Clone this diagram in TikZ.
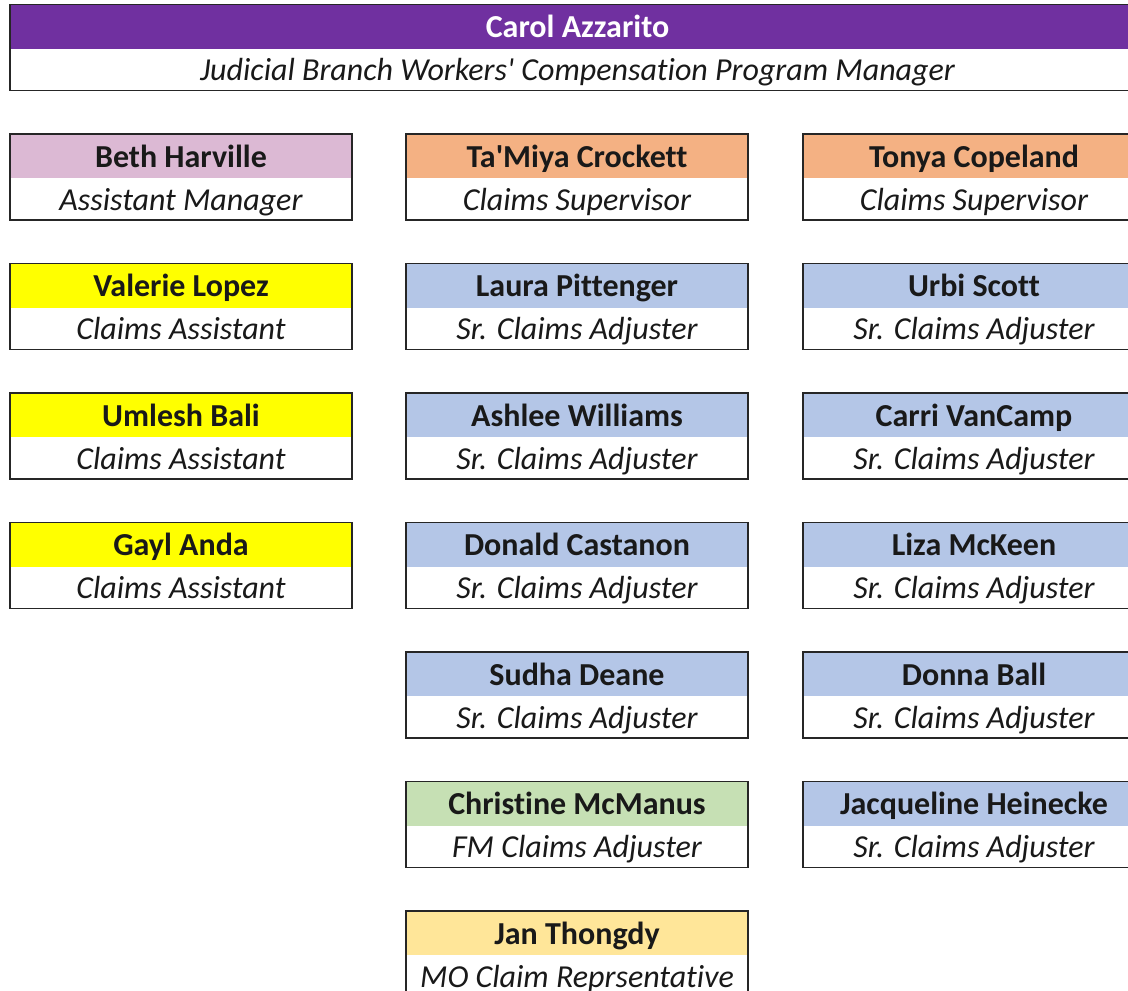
\documentclass[tikz,border=0pt]{standalone}
\usepackage{fontspec}
\setmainfont[Ligatures=NoCommon]{Carlito}
\usetikzlibrary{positioning}

\definecolor{purplehd}{HTML}{7030A0}
\definecolor{pinkhd}{HTML}{DCB9D4}
\definecolor{orangehd}{HTML}{F4B183}
\definecolor{yellowhd}{HTML}{FFFF00}
\definecolor{bluehd}{HTML}{B4C6E7}
\definecolor{greenhd}{HTML}{C6E0B4}
\definecolor{goldhd}{HTML}{FFE699}
\definecolor{edge}{HTML}{262626}

\tikzset{
  hd/.style={minimum width=342pt,minimum height=44pt,inner sep=0pt,outer sep=0pt,
    text height=28pt,text depth=6pt,
    font=\fontsize{32}{36}\selectfont\bfseries,text=black!90},
  tl/.style={minimum width=342pt,minimum height=42pt,inner sep=0pt,outer sep=0pt,fill=white,
    text height=28pt,text depth=6pt,
    font=\fontsize{32}{36}\selectfont\itshape,text=black!90},
  frame/.style={draw=edge,line width=1.6pt}
}

\begin{document}
\begin{tikzpicture}[x=1pt,y=-1pt,node distance=43.5pt]
\clip (0,0) rectangle (1128,991);
\fill[white] (0,0) rectangle (1128,991);

% manager
\node[hd,fill=purplehd,text=white,minimum width=1135pt] (carol) at (577.5,26.5) {Carol Azzarito};
\node[tl,minimum width=1135pt] (carolT) [below=0pt of carol] {Judicial Branch Workers\textquotesingle{} Compensation Program Manager};
\draw[frame] (carol.north west) rectangle (carolT.south east);

% first column
\node[hd,fill=pinkhd] (beth) at (181,156) {Beth Harville};
\node[tl] (bethT) [below=0pt of beth] {Assistant Manager};
\node[hd,fill=yellowhd] (valerie) [below=of bethT] {Valerie Lopez};
\node[tl] (valerieT) [below=0pt of valerie] {Claims Assistant};
\node[hd,fill=yellowhd] (umlesh) [below=of valerieT] {Umlesh Bali};
\node[tl] (umleshT) [below=0pt of umlesh] {Claims Assistant};
\node[hd,fill=yellowhd] (gayl) [below=of umleshT] {Gayl Anda};
\node[tl] (gaylT) [below=0pt of gayl] {Claims Assistant};

% second column
\node[hd,fill=orangehd] (tamiya) [right=54pt of beth] {Ta\textquotesingle{}Miya Crockett};
\node[tl] (tamiyaT) [below=0pt of tamiya] {Claims Supervisor};
\node[hd,fill=bluehd] (laura) [below=of tamiyaT] {Laura Pittenger};
\node[tl] (lauraT) [below=0pt of laura] {Sr. Claims Adjuster};
\node[hd,fill=bluehd] (ashlee) [below=of lauraT] {Ashlee Williams};
\node[tl] (ashleeT) [below=0pt of ashlee] {Sr. Claims Adjuster};
\node[hd,fill=bluehd] (donald) [below=of ashleeT] {Donald Castanon};
\node[tl] (donaldT) [below=0pt of donald] {Sr. Claims Adjuster};
\node[hd,fill=bluehd] (sudha) [below=of donaldT] {Sudha Deane};
\node[tl] (sudhaT) [below=0pt of sudha] {Sr. Claims Adjuster};
\node[hd,fill=greenhd] (christine) [below=of sudhaT] {Christine McManus};
\node[tl] (christineT) [below=0pt of christine] {FM Claims Adjuster};
\node[hd,fill=goldhd] (jan) [below=of christineT] {Jan Thongdy};
\node[tl] (janT) [below=0pt of jan] {MO Claim Reprsentative};

% third column
\node[hd,fill=orangehd] (tonya) [right=55pt of tamiya] {Tonya Copeland};
\node[tl] (tonyaT) [below=0pt of tonya] {Claims Supervisor};
\node[hd,fill=bluehd] (urbi) [below=of tonyaT] {Urbi Scott};
\node[tl] (urbiT) [below=0pt of urbi] {Sr. Claims Adjuster};
\node[hd,fill=bluehd] (carri) [below=of urbiT] {Carri VanCamp};
\node[tl] (carriT) [below=0pt of carri] {Sr. Claims Adjuster};
\node[hd,fill=bluehd] (liza) [below=of carriT] {Liza McKeen};
\node[tl] (lizaT) [below=0pt of liza] {Sr. Claims Adjuster};
\node[hd,fill=bluehd] (donna) [below=of lizaT] {Donna Ball};
\node[tl] (donnaT) [below=0pt of donna] {Sr. Claims Adjuster};
\node[hd,fill=bluehd] (jacqueline) [below=of donnaT] {Jacqueline Heinecke};
\node[tl] (jacquelineT) [below=0pt of jacqueline] {Sr. Claims Adjuster};

% frames
\foreach \p in {beth,valerie,umlesh,gayl,tamiya,laura,ashlee,donald,sudha,christine,jan,tonya,urbi,carri,liza,donna,jacqueline}
  \draw[frame] (\p.north west) rectangle (\p T.south east);
\end{tikzpicture}
\end{document}
